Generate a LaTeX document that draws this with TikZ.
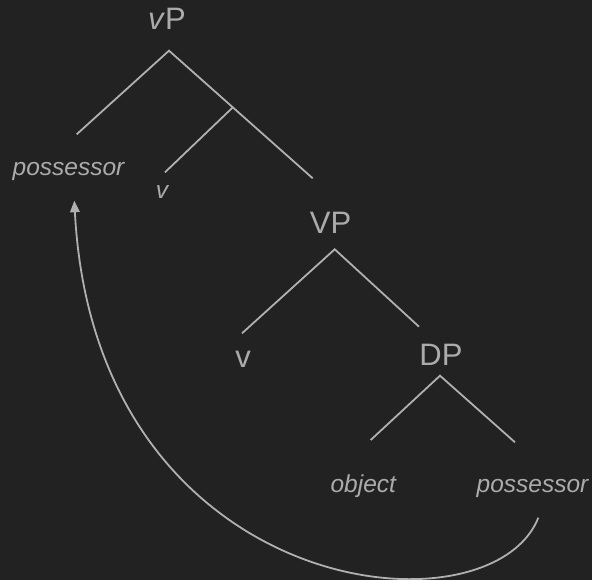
\documentclass[tikz,border=0pt]{standalone}
\usepackage{fontspec}
\setmainfont{Liberation Sans}
\usetikzlibrary{arrows.meta}
\definecolor{bg}{HTML}{222222}
\definecolor{ink}{HTML}{ABABAB}
\definecolor{linec}{HTML}{B0B0B0}
\begin{document}
\begin{tikzpicture}[x=1pt,y=-1pt,
  cat/.style={anchor=base,inner sep=0pt,text=ink,font=\fontsize{31}{36}\selectfont},
  term/.style={anchor=base,inner sep=0pt,text=ink,font=\fontsize{24.5}{30}\selectfont\itshape},
  branch/.style={draw=linec,line width=1.8pt},
  move/.style={draw=linec,line width=1.8pt,-{Triangle[width=9.5pt,length=11.5pt]}}]
\fill[bg] (0,0) rectangle (592,580);
\useasboundingbox (0,0) rectangle (592,580);
% labels
\node[cat] (vP) at (167,29.3) {\textit{v}P};
\node[term] (poss1) at (68.5,175.7) {possessor};
\node[term] (vsmall) at (162,199) {v};
\node[cat] (VP) at (330.5,233.3) {VP};
\node[cat] (V) at (243,367.3) {v};
\node[cat] (DP) at (441,365) {DP};
\node[term] (obj) at (363.3,492.7) {object};
\node[term] (poss2) at (532.5,492.7) {possessor};
% branch points
\coordinate (vPtop) at (169,50.7);
\coordinate (vPl) at (76.7,134.3);
\coordinate (vPr) at (312.7,178.3);
\coordinate (vbar) at (232.7,107.5);
\coordinate (vbarl) at (165,172.3);
\coordinate (VPtop) at (334.7,249.3);
\coordinate (VPl) at (242,333.3);
\coordinate (VPr) at (419,326.7);
\coordinate (DPtop) at (440,375.7);
\coordinate (DPl) at (370.7,440);
\coordinate (DPr) at (515,442.3);
\coordinate (mvS) at (538.3,517.7);
\coordinate (mvE) at (74.3,200.7);
% branches
\draw[branch] (vPl) -- (vPtop) -- (vPr);
\draw[branch] (vbar) -- (vbarl);
\draw[branch] (VPl) -- (VPtop) -- (VPr);
\draw[branch] (DPl) -- (DPtop) -- (DPr);
% movement arrow
\draw[move] (mvS) .. controls (490,640) and (95,600) .. (mvE);
\end{tikzpicture}
\end{document}
